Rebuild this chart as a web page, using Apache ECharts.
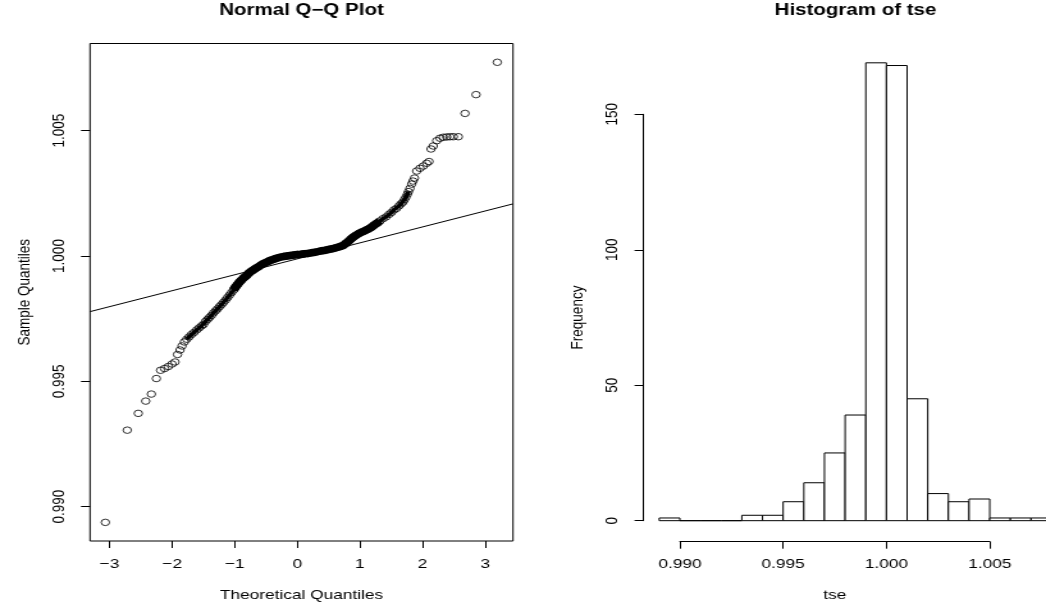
<!DOCTYPE html>
<html>
<head>
<meta charset="utf-8">
<title>Normal Q-Q Plot / Histogram of tse</title>
<script src="https://cdn.jsdelivr.net/npm/echarts@6/dist/echarts.min.js"></script>
<style>
  html, body { margin: 0; padding: 0; background: #fff; overflow: hidden; }
  #stage { width: 1046px; height: 610px; overflow: hidden; }
  /* the source figure is stretched sideways, so draw narrower and stretch;
     the canvas runs past the right edge like the clipped last bar does */
  #chart { width: 850px; height: 610px; transform: scaleX(1.28029); transform-origin: 0 0; }
</style>
</head>
<body>
<div id="stage"><div id="chart"></div></div>
<script>
// Q-Q points (sorted), theoretical vs sample quantiles
const qqTheoretical = [
  -3.067, -2.717, -2.541, -2.422, -2.332, -2.252, -2.185, -2.121, -2.061, -2.002, -1.954, -1.914, -1.874, -1.842, -1.805, -1.767,
  -1.730, -1.690, -1.650, -1.607, -1.570, -1.530, -1.498, -1.466, -1.434, -1.403, -1.371, -1.339, -1.307, -1.275, -1.243, -1.211,
  -1.179, -1.147, -1.115, -1.083, -1.051, -1.019, -0.987, -0.955, -0.923, -0.891, -0.851, -0.811, -0.772, -0.724, -0.676, -0.628,
  -0.580, -0.532, -0.484, -0.436, -0.388, -0.332, -0.276, -0.220, -0.165, -0.109, -0.053, 0.003, 0.059, 0.115, 0.171, 0.227,
  0.283, 0.339, 0.395, 0.450, 0.506, 0.562, 0.618, 0.674, 0.730, 0.778, 0.818, 0.858, 0.898, 0.938, 0.986, 1.034,
  1.081, 1.129, 1.177, 1.225, 1.273, 1.321, 1.369, 1.417, 1.465, 1.505, 1.545, 1.585, 1.625, 1.656, 1.688, 1.712,
  1.736, 1.760, 1.776,
  1.800, 1.827, 1.848, 1.872, 1.907, 1.960, 2.013, 2.067, 2.104, 2.136, 2.172, 2.227, 2.280, 2.332, 2.387, 2.439,
  2.492, 2.572, 2.679, 2.855, 3.195
];
const qqSample = [
  0.98937, 0.99305, 0.99372, 0.99421, 0.99449, 0.99511, 0.99544, 0.99551, 0.99559, 0.99569, 0.99577, 0.99607, 0.99625, 0.99641, 0.99657, 0.99668,
  0.99677, 0.99687, 0.99695, 0.99705, 0.99713, 0.99721, 0.99727, 0.99739, 0.99747, 0.99755, 0.99763, 0.99773, 0.99781, 0.99789, 0.99798, 0.99806,
  0.99815, 0.99824, 0.99834, 0.99844, 0.99854, 0.99864, 0.99876, 0.99886, 0.99896, 0.99904, 0.99914, 0.99922, 0.99932, 0.99941, 0.99949, 0.99956,
  0.99964, 0.99971, 0.99976, 0.99982, 0.99986, 0.99991, 0.99995, 0.99998, 1.00000, 1.00002, 1.00004, 1.00006, 1.00007, 1.00009, 1.00010, 1.00013,
  1.00015, 1.00018, 1.00021, 1.00023, 1.00026, 1.00029, 1.00033, 1.00037, 1.00042, 1.00051, 1.00058, 1.00068, 1.00076, 1.00083, 1.00090, 1.00096,
  1.00101, 1.00107, 1.00114, 1.00123, 1.00131, 1.00140, 1.00149, 1.00156, 1.00166, 1.00174, 1.00184, 1.00190, 1.00200, 1.00208, 1.00215, 1.00225,
  1.00235, 1.00247, 1.00257,
  1.00270, 1.00287, 1.00299, 1.00311, 1.00339, 1.00350, 1.00359, 1.00370, 1.00377, 1.00427, 1.00439, 1.00460, 1.00470, 1.00474, 1.00475, 1.00476,
  1.00476, 1.00476, 1.00569, 1.00644, 1.00773
];

// qqline, taken at the two edges of the box
const qqLineQ = [-3.312, 3.446];
const qqLineS = [0.99778, 1.00208];

// histogram of tse
const histBreaks = [0.989, 0.990, 0.991, 0.992, 0.993, 0.994, 0.995, 0.996, 0.997, 0.998, 0.999,
  1.000, 1.001, 1.002, 1.003, 1.004, 1.005, 1.006, 1.007, 1.008];
const histCounts = [1, 0, 0, 0, 2, 2, 7, 14, 25, 39, 169, 168, 45, 10, 7, 8, 1, 1, 1];

const qqXTicks = [-3, -2, -1, 0, 1, 2, 3];
const qqYTicks = [0.990, 0.995, 1.000, 1.005];
const histXTicks = [0.990, 0.995, 1.000, 1.005];
const histYTicks = [0, 50, 100, 150];

const STRETCH = 1.28029;
const px = (v) => v / STRETCH; // reference x pixels -> chart pixels

const FONT = "'Liberation Sans', Arial, Helvetica, sans-serif";
const black = '#000';
const labelStyle = { color: black, fontSize: 13.5, fontFamily: FONT };
const minus = (v) => String(v).replace('-', '\u2212');

const hidden = { show: false };
const noLine = { show: false, onZero: false };
const blackLine = { show: true, onZero: false, lineStyle: { color: black, width: 1 } };
const tick = (values) => ({ inside: false, length: 7, lineStyle: { color: black }, customValues: values });

const qqPoints = qqTheoretical.map((q, i) => [q, qqSample[i]]);
// stretch of the curve where the circles overlap into a dark band
const bandBetween = (lo, hi) => qqPoints.filter((d) => d[0] > lo && d[0] < hi);

const chart = echarts.init(document.getElementById('chart'), null, { renderer: 'canvas' });

chart.setOption({
  animation: false,
  backgroundColor: '#fff',
  title: [
    {
      text: 'Normal Q\u2212Q Plot',
      left: px(301.5), top: 3, textAlign: 'center', padding: 0,
      textStyle: { color: black, fontSize: 16, fontWeight: 'bold', fontFamily: FONT }
    },
    {
      text: 'Histogram of tse',
      left: px(855.5), top: 3, textAlign: 'center', padding: 0,
      textStyle: { color: black, fontSize: 16, fontWeight: 'bold', fontFamily: FONT }
    }
  ],
  grid: [
    // q-q box
    { left: px(90), top: 43.5, width: px(423), height: 497.5, show: true, borderColor: black, borderWidth: 1, backgroundColor: 'transparent' },
    // histogram plot region
    { left: px(643.5), top: 44.5, width: px(423.9), height: 494.5 },
    // histogram x axis (spans first to last tick)
    { left: px(679.9), top: 44.5, width: px(309.9), height: 497.2 },
    // histogram y axis (spans 0..150)
    { left: px(643.5), top: 114.3, width: 10, height: 406.4 }
  ],
  xAxis: [
    {
      gridIndex: 0, type: 'value', min: qqLineQ[0], max: qqLineQ[1],
      axisLine: noLine, splitLine: hidden, axisTick: tick(qqXTicks),
      axisLabel: { ...labelStyle, margin: 16, customValues: qqXTicks, formatter: minus },
      name: 'Theoretical Quantiles', nameLocation: 'middle', nameGap: 47, nameTextStyle: labelStyle
    },
    { gridIndex: 1, type: 'value', min: 0.98824, max: 1.00876, show: false },
    {
      gridIndex: 2, type: 'value', min: 0.990, max: 1.005,
      axisLine: blackLine, splitLine: hidden, axisTick: tick(histXTicks),
      axisLabel: { ...labelStyle, margin: 16, customValues: histXTicks, formatter: (v) => v.toFixed(3) },
      name: 'tse', nameLocation: 'middle', nameGap: 47, nameTextStyle: labelStyle
    },
    { gridIndex: 3, type: 'value', show: false }
  ],
  yAxis: [
    {
      gridIndex: 0, type: 'value', min: 0.988627, max: 1.008480,
      axisLine: noLine, splitLine: hidden, axisTick: tick(qqYTicks),
      axisLabel: { ...labelStyle, margin: 17, rotate: 90, customValues: qqYTicks, formatter: (v) => v.toFixed(3) },
      name: 'Sample Quantiles', nameLocation: 'middle', nameGap: 44, nameTextStyle: labelStyle
    },
    { gridIndex: 1, type: 'value', min: -6.76, max: 175.76, show: false },
    { gridIndex: 2, type: 'value', show: false },
    {
      gridIndex: 3, type: 'value', min: 0, max: 150,
      axisLine: blackLine, splitLine: hidden, axisTick: tick(histYTicks),
      axisLabel: { ...labelStyle, margin: 17, rotate: 90, customValues: histYTicks },
      name: 'Frequency', nameLocation: 'middle', nameGap: 44, nameTextStyle: labelStyle
    }
  ],
  series: [
    {
      type: 'scatter', xAxisIndex: 0, yAxisIndex: 0, silent: true,
      symbol: 'circle', symbolSize: 6.5,
      itemStyle: { color: 'rgba(0,0,0,0)', borderColor: black, borderWidth: 1 },
      data: qqPoints
    },
    {
      type: 'line', xAxisIndex: 0, yAxisIndex: 0, silent: true, showSymbol: false,
      lineStyle: { color: black, width: 3.5 },
      data: bandBetween(-1.78, 1.78)
    },
    {
      type: 'line', xAxisIndex: 0, yAxisIndex: 0, silent: true, showSymbol: false,
      lineStyle: { color: black, width: 7.5 },
      data: bandBetween(-1.05, 1.35)
    },
    {
      type: 'line', xAxisIndex: 0, yAxisIndex: 0, silent: true, showSymbol: false,
      lineStyle: { color: black, width: 1 },
      data: qqLineQ.map((q, i) => [q, qqLineS[i]])
    },
    {
      type: 'custom', xAxisIndex: 1, yAxisIndex: 1, silent: true,
      encode: { x: [0, 1], y: 2 },
      data: histCounts.map((c, i) => [histBreaks[i], histBreaks[i + 1], c]),
      renderItem: (params, api) => {
        const topLeft = api.coord([api.value(0), api.value(2)]);
        const bottomRight = api.coord([api.value(1), 0]);
        return {
          type: 'rect',
          shape: { x: topLeft[0], y: topLeft[1], width: bottomRight[0] - topLeft[0], height: bottomRight[1] - topLeft[1] },
          style: { fill: '#fff', stroke: black, lineWidth: 1 }
        };
      }
    }
  ]
});
</script>
</body>
</html>
